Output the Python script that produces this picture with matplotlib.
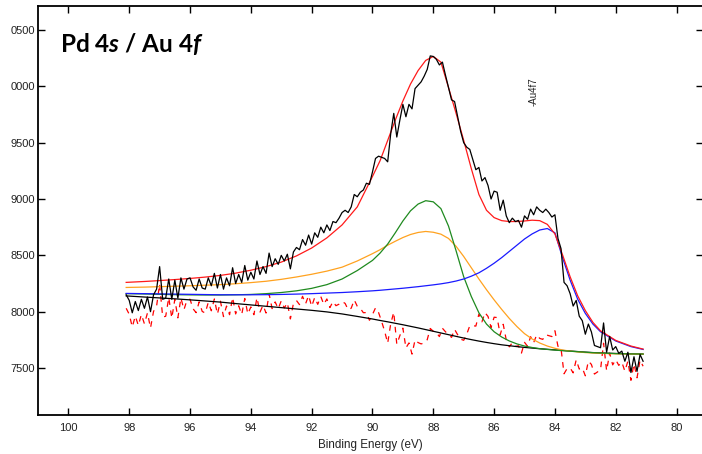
import numpy as np
import matplotlib
matplotlib.use("Agg")
import matplotlib.pyplot as plt

plt.rcParams['font.family'] = ['Liberation Sans', 'DejaVu Sans']
plt.rcParams['mathtext.fontset'] = 'custom'
plt.rcParams['mathtext.bfit'] = 'Lato:italic:bold'
plt.rcParams['mathtext.it'] = 'Lato:italic:bold'

# ---------------- data ----------------
data_e_start, data_e_stop, data_step = 98.1, 81.1, 0.1
data_counts = [
    8150, 8100, 7990, 8090, 8010, 8110, 8030, 8130, 8000, 8150, 8200,
    8400, 8110, 8120, 8290, 8110, 8280, 8120, 8300, 8200, 8290,
    8300, 8220, 8190, 8290, 8210, 8200, 8300, 8230, 8340, 8210,
    8330, 8200, 8300, 8230, 8390, 8250, 8330, 8260, 8410, 8280,
    8350, 8290, 8450, 8330, 8400, 8340, 8520, 8400, 8470, 8420,
    8500, 8450, 8510, 8380, 8530, 8570, 8550, 8640, 8590, 8680,
    8600, 8700, 8660, 8750, 8700, 8770, 8720, 8800, 8790, 8830,
    8880, 8900, 8880, 8930, 9040, 9020, 9060, 9080, 9140, 9130,
    9240, 9360, 9380, 9370, 9360, 9330, 9580, 9760, 9550, 9700,
    9840, 9730, 9840, 9800, 9980, 10010, 10040, 10090, 10150, 10270,
    10265, 10240, 10190, 10215, 10100, 9990, 9880, 9865, 9730, 9600,
    9500, 9460, 9440, 9350, 9260, 9280, 9160, 9190, 9120, 9000,
    9070, 9060, 8900, 8990, 8850, 8790, 8830, 8800, 8810, 8750,
    8850, 8820, 8910, 8860, 8930, 8900, 8880, 8910, 8880, 8840,
    8860, 8650, 8560, 8260, 8230, 8160, 8050, 8100, 7960, 7920,
    7800, 7890, 7820, 7700, 7690, 7680, 7900, 7640, 7780, 7660,
    7690, 7630, 7650, 7560, 7640, 7460, 7600, 7470, 7620, 7560,
]

fit_energy = [98.1, 97.5, 97.0, 96.5, 96.0, 95.5, 95.0, 94.5, 94.0, 93.5,
              93.0, 92.5, 92.0, 91.5, 91.0, 90.5, 90.0, 89.75, 89.5, 89.25,
              89.0, 88.75, 88.5, 88.25, 88.0, 87.75, 87.5, 87.25, 87.0, 86.75,
              86.5, 86.25, 86.0, 85.75, 85.5, 85.25, 85.0, 84.75, 84.5, 84.25,
              84.0, 83.75, 83.5, 83.25, 83.0, 82.75, 82.5, 82.0, 81.5, 81.1]

background = [8140, 8130, 8122, 8114, 8105, 8095, 8085, 8072, 8060, 8048,
              8036, 8024, 8012, 7998, 7980, 7958, 7935, 7922, 7910, 7897,
              7884, 7870, 7856, 7841, 7826, 7811, 7796, 7781, 7766, 7752,
              7739, 7727, 7716, 7706, 7698, 7690, 7683, 7677, 7671, 7666,
              7661, 7656, 7651, 7646, 7641, 7637, 7634, 7629, 7626, 7624]

pd4s_broad = [8215, 8218, 8222, 8226, 8230, 8235, 8240, 8248, 8258, 8270,
              8287, 8308, 8332, 8360, 8395, 8450, 8515, 8550, 8590, 8625,
              8658, 8685, 8703, 8712, 8705, 8688, 8650, 8580, 8490, 8390,
              8290, 8195, 8105, 8020, 7940, 7868, 7805, 7758, 7722, 7695,
              7675, 7660, 7650, 7643, 7637, 7633, 7630, 7626, 7624, 7623]

au4f5 = [8160, 8157, 8154, 8151, 8149, 8148, 8148, 8150, 8153, 8160,
         8170, 8185, 8207, 8240, 8290, 8365, 8455, 8520, 8600, 8700,
         8805, 8895, 8955, 8985, 8975, 8915, 8760, 8540, 8310, 8135,
         7990, 7890, 7822, 7775, 7740, 7714, 7695, 7682, 7672, 7665,
         7659, 7654, 7649, 7645, 7640, 7636, 7633, 7628, 7625, 7624]

au4f7 = [8162, 8160, 8158, 8156, 8154, 8152, 8150, 8150, 8150, 8151,
         8153, 8156, 8160, 8165, 8170, 8177, 8185, 8190, 8196, 8202,
         8208, 8215, 8222, 8230, 8238, 8247, 8258, 8272, 8290, 8315,
         8345, 8385, 8430, 8480, 8535, 8590, 8645, 8690, 8725, 8738,
         8700, 8480, 8280, 8110, 7985, 7890, 7822, 7740, 7690, 7665]

envelope = [8260, 8268, 8276, 8285, 8295, 8307, 8322, 8342, 8368, 8400,
            8440, 8495, 8565, 8655, 8770, 8930, 9200, 9340, 9520, 9700,
            9870, 10020, 10140, 10230, 10265, 10215, 9990, 9760, 9520, 9270,
            9040, 8900, 8835, 8808, 8800, 8800, 8805, 8812, 8808, 8775,
            8690, 8505, 8310, 8140, 8010, 7905, 7830, 7745, 7695, 7668]

y_ticks = [10500, 10000, 9500, 9000, 8500, 8000, 7500]
y_tick_labels = ["0500", "0000", "9500", "9000", "8500", "8000", "7500"]
x_ticks = [100, 98, 96, 94, 92, 90, 88, 86, 84, 82, 80]
x_tick_labels = [str(t) for t in x_ticks]

# ---------------- figure ----------------
fig = plt.figure(figsize=(7.02, 4.54), dpi=100)
ax = fig.add_axes([38 / 702, 39 / 454, 665 / 702, 409 / 454])

E = np.round(np.arange(data_e_start, data_e_stop - 1e-6, -data_step), 2)
counts = np.array(data_counts, dtype=float)
fe = np.array(fit_energy)
env = np.array(envelope, dtype=float)
bg = np.array(background, dtype=float)
# residual drawn about the background
env_on_E = np.interp(E[::-1], fe[::-1], env[::-1])[::-1]
bg_on_E = np.interp(E[::-1], fe[::-1], bg[::-1])[::-1]
residual = counts - env_on_E + bg_on_E

lw = 0.9
ax.plot(E, residual, color='red', lw=lw, linestyle=(0, (4.5, 4.5)))
ax.plot(fe, background, color='black', lw=lw)
ax.plot(fe, pd4s_broad, color='#ffa21f', lw=lw)
ax.plot(fe, au4f5, color='#1f8a1f', lw=lw)
ax.plot(fe, au4f7, color='#1a1aff', lw=lw)
ax.plot(fe, envelope, color='#ff1a1a', lw=lw)
ax.plot(E, counts, color='black', lw=lw)

ax.set_xlim(101.0, 79.13)
ax.set_ylim(7083, 10713)
ax.set_xticks(x_ticks)
ax.set_xticklabels(x_tick_labels)
ax.set_yticks(y_ticks)
ax.set_yticklabels(y_tick_labels)

ax.tick_params(axis='both', which='both', direction='in', length=5, width=1.0,
               labelsize=8, labelcolor='#222222', top=True, right=True)
ax.tick_params(axis='x', pad=6)
ax.tick_params(axis='y', pad=2)
for s in ax.spines.values():
    s.set_linewidth(1.3)

ax.set_xlabel('Binding Energy (eV)', fontsize=8.4, color='#222222', labelpad=4)

ax.text(0.033, 0.888, r'Pd 4$\mathbfit{s}$ / Au 4$\mathbfit{f}$',
        transform=ax.transAxes, fontsize=17.5, fontweight='bold',
        family=['Lato', 'DejaVu Sans'], ha='left', va='baseline', color='black')

ax.text(84.69, 9950, '-Au4f7', rotation=90, fontsize=7, ha='center', va='center',
        color='#222222')

fig.savefig('out.png', dpi=100)
